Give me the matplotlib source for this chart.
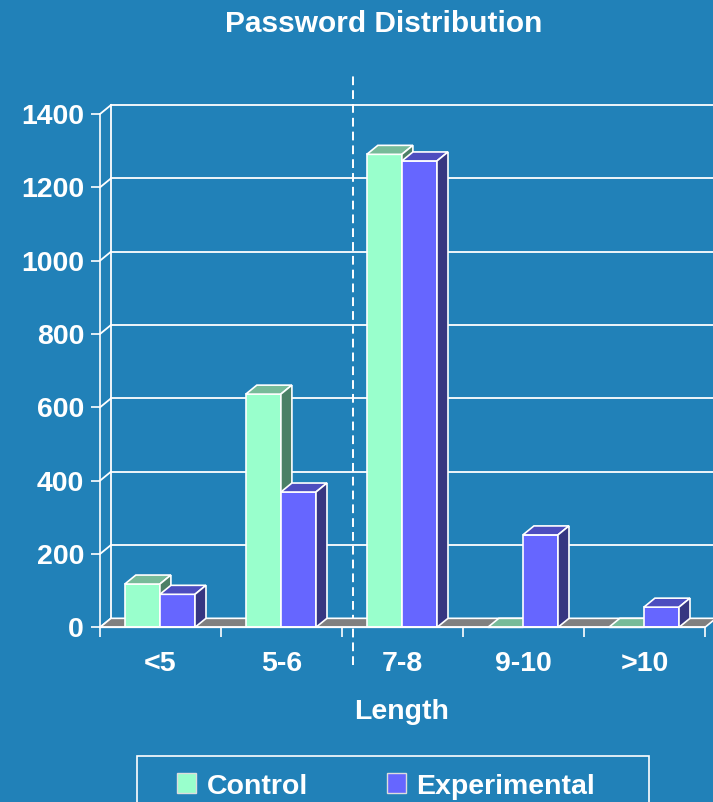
import matplotlib
matplotlib.use("Agg")
import matplotlib.pyplot as plt
from matplotlib.patches import Polygon, Rectangle

categories = ["<5", "5-6", "7-8", "9-10", ">10"]
control = [118, 636, 1290, 0, 0]
experimental = [90, 369, 1272, 252, 55]
yticks = [0, 200, 400, 600, 800, 1000, 1200, 1400]

BG = "#2181b8"
W, H = 713, 802
DX, DY = 0.091, 24.5  # depth of the 3D box (x in categories, y in counts)
BAR_W = 0.29

plt.rcParams["font.family"] = ["Liberation Sans", "DejaVu Sans"]
plt.rcParams["font.weight"] = "bold"


def fx(px):
    return px / W


def fy(py):
    return 1 - py / H


fig = plt.figure(figsize=(W / 100, H / 100), dpi=100, facecolor=BG)
ax = fig.add_axes([fx(100), fy(627.3), 605 / W, 513.3 / H])
ax.set_facecolor("none")
ax.set_xlim(0, 5)
ax.set_ylim(0, 1400)
for s in ("top", "right"):
    ax.spines[s].set_visible(False)
for s in ("left", "bottom"):
    ax.spines[s].set_color("white")
    ax.spines[s].set_linewidth(1.2)
    ax.spines[s].set_zorder(4)

line = dict(color="white", lw=1.3, clip_on=False)
# back wall, grid and the little depth connectors
ax.plot([DX, DX], [DY, 1400 + DY], zorder=1, **line)
for v in yticks:
    ax.plot([0, DX], [v, v + DY], zorder=1, **line)
    if v:
        ax.plot([DX, 5.4], [v + DY, v + DY], zorder=1, **line)

# floor
ax.add_patch(Polygon([(0, 0), (5, 0), (5 + DX, DY), (DX, DY)], facecolor="#808080",
                     edgecolor="white", lw=1.2, clip_on=False, zorder=2))

# divider between 5-6 and 7-8
ax.plot([2 + DX, 2 + DX], [-103, 1506], color="white", lw=1.4, dashes=(4.5, 2.6),
        clip_on=False, zorder=1)


def bars3d(offset, vals, front, top, side):
    xs = [i + offset for i in range(len(vals))]
    for x, h in zip(xs, vals):
        kw = dict(edgecolor="white", lw=1.2, clip_on=False, zorder=3)
        ax.bar(x, h, BAR_W, align="edge", color=front, **kw)
        ax.add_patch(Polygon([(x, h), (x + BAR_W, h), (x + BAR_W + DX, h + DY), (x + DX, h + DY)],
                             facecolor=top, **kw))
        ax.add_patch(Polygon([(x + BAR_W, 0), (x + BAR_W + DX, DY), (x + BAR_W + DX, h + DY),
                              (x + BAR_W, h)], facecolor=side, **kw))


bars3d(0.205, control, "#99ffcc", "#77bb99", "#4c8066")
bars3d(0.495, experimental, "#6666ff", "#4d4dbf", "#363681")

# ticks
ax.set_yticks(yticks)
ax.tick_params(axis="y", colors="white", direction="out", length=6.5, width=1.2, pad=5,
               labelsize=20.5)
ax.set_xticks(range(6))
ax.set_xticklabels([""] * 6)
ax.tick_params(axis="x", which="major", colors="white", direction="out", length=7, width=1.2)
ax.set_xticks([i + 0.5 for i in range(5)], minor=True)
ax.set_xticklabels(categories, minor=True)
ax.tick_params(axis="x", which="minor", length=0, pad=17, labelsize=20.5, labelcolor="white")

fig.text(fx(384), fy(24), "Password Distribution", color="white", fontsize=21.5,
         ha="center", va="center")
fig.text(fx(402), fy(712), "Length", color="white", fontsize=20.5, ha="center", va="center")

# legend box
fig.patches.append(Rectangle((fx(137), fy(830)), 512 / W, 74 / H, transform=fig.transFigure,
                             facecolor="none", edgecolor="white", lw=1.2))
for sx, tx, lab, col in ((177, 207, "Control", "#99ffcc"),
                         (387, 416, "Experimental", "#6666ff")):
    fig.patches.append(Rectangle((fx(sx), fy(792.5)), 19 / W, 20 / H, transform=fig.transFigure,
                                 facecolor=col, edgecolor="#dddddd", lw=1))
    fig.text(fx(tx), fy(784), lab, color="white", fontsize=20.5, ha="left", va="center_baseline")

fig.savefig("out.png", dpi=100, facecolor=BG)
